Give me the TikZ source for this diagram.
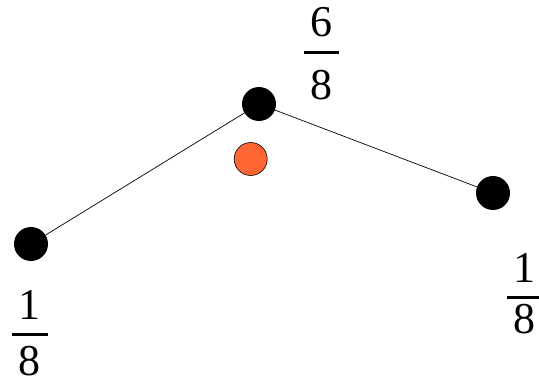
\documentclass[tikz,border=0pt]{standalone}
\usepackage{fontspec}
\setmainfont{Liberation Serif}
\definecolor{dotorange}{HTML}{FF6633}
\begin{document}
\begin{tikzpicture}[x=1pt,y=1pt,
  blackdot/.style={circle,fill=black,minimum size=34pt,inner sep=0pt},
  orangedot/.style={circle,fill=dotorange,draw=black,line width=0.6pt,minimum size=33pt,inner sep=0pt},
  digit/.style={anchor=base,inner sep=0pt,font=\fontsize{44}{48}\selectfont},
  fracbar/.style={line width=3pt},
  edge/.style={line width=0.7pt}]
\clip (0,0) rectangle (539,384);
\useasboundingbox (0,0) rectangle (539,384);
\node[blackdot] (l) at (31,140) {};
\node[blackdot] (t) at (259,280) {};
\node[blackdot] (r) at (493,191) {};
\node[orangedot] (o) at (250.7,225) {};
\draw[edge] (l) -- (t);
\draw[edge] (t) -- (r);
% top fraction
\node[digit] (tn) at (321.5,347) {6};
\node[digit] (td) at (321.5,284) {8};
\draw[fracbar] (304,331.3) -- (339,331.3);
% left fraction
\node[digit] (ln) at (30,65) {1};
\node[digit] (ld) at (30,8.5) {8};
\draw[fracbar] (12,50) -- (48,50);
% right fraction
\node[digit] (rn) at (524,102) {1};
\node[digit] (rd) at (524,51) {8};
\draw[fracbar] (507,87) -- (541,87);
\end{tikzpicture}
\end{document}
